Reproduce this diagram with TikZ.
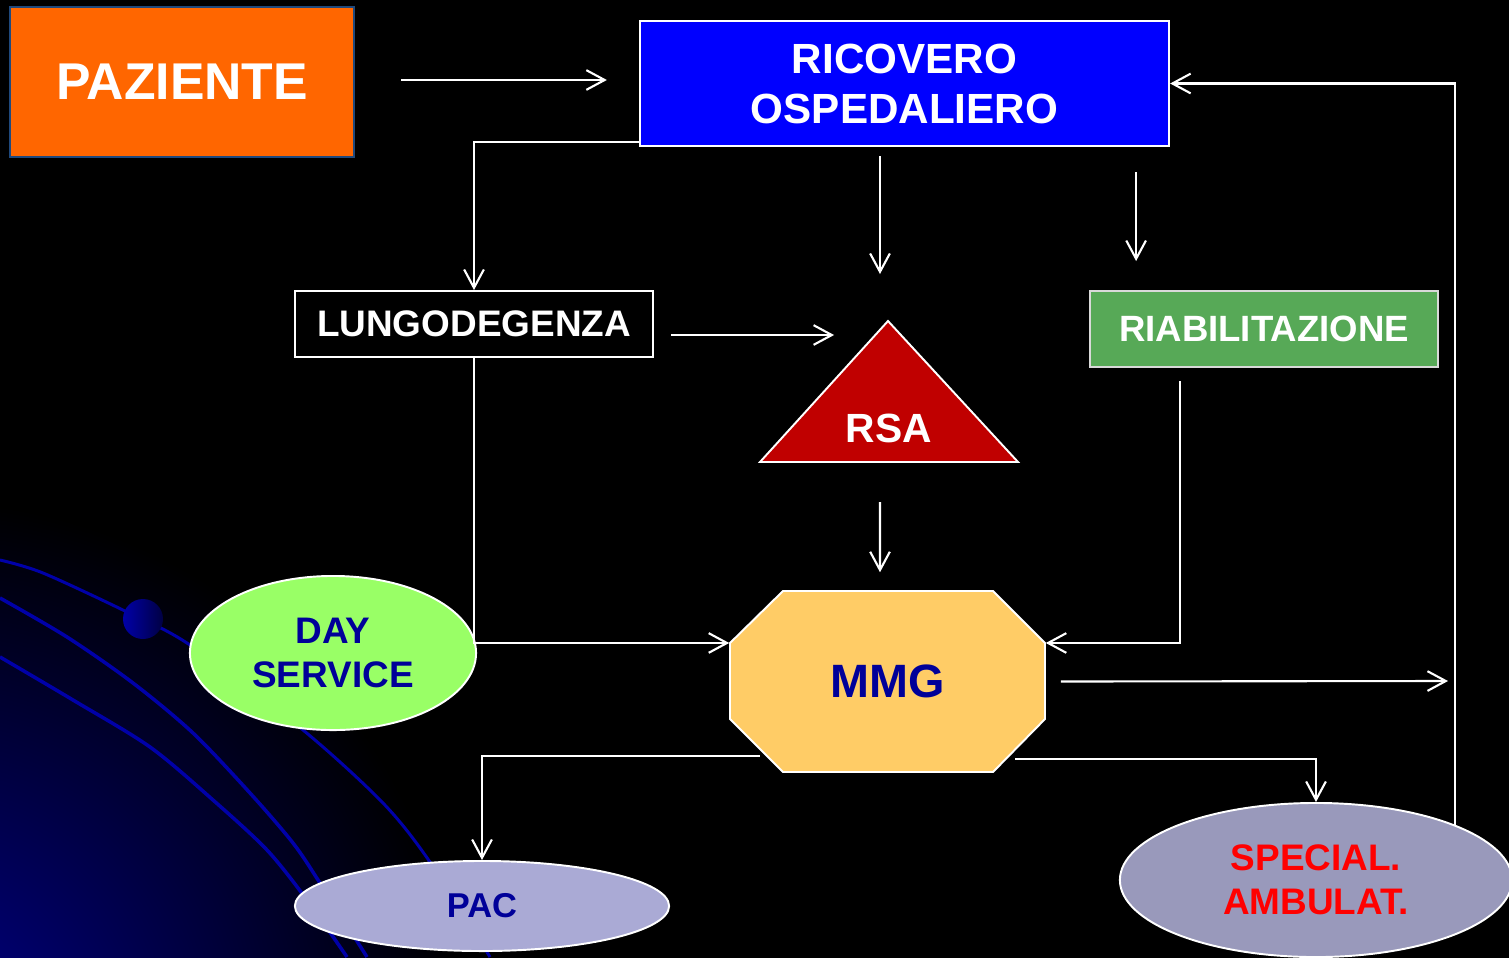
\documentclass[tikz,border=0pt]{standalone}
\usepackage{fontspec}
\setmainfont{Liberation Sans}
\usetikzlibrary{arrows.meta, shapes.geometric}
\definecolor{pazorange}{HTML}{FF6600}
\definecolor{pazedge}{HTML}{1F497D}
\definecolor{ricblue}{HTML}{0000FF}
\definecolor{riabgreen}{HTML}{57A957}
\definecolor{rsared}{HTML}{C00000}
\definecolor{mmgyellow}{HTML}{FFCC66}
\definecolor{daygreen}{HTML}{99FF66}
\definecolor{paclilac}{HTML}{AAAAD5}
\definecolor{speclilac}{HTML}{9999BB}
\definecolor{txtblue}{HTML}{000099}
\definecolor{arcblue}{HTML}{0000A8}
\definecolor{globeblue}{HTML}{000088}
\tikzset{
  box/.style   = {draw=white, line width=0.55pt, inner sep=0pt, align=center,
                  text=white},
  oval/.style  = {ellipse, draw=white, line width=0.55pt, inner sep=0pt,
                  align=center, text=txtblue},
  ar/.style    = {draw=white, line width=0.6pt,
                  -{Straight Barb[length=5.2pt, width=5.6pt]}},
  arcl/.style  = {draw=arcblue, line width=1pt},
}
\newcommand{\fs}[2]{\fontsize{#1}{#2}\selectfont\bfseries}

\begin{document}
\begin{tikzpicture}[x=0.01cm, y=-0.01cm]
  \useasboundingbox (0,0) rectangle (1509,957);
  \fill[black] (-10,-10) rectangle (1519,967);
  % globe in the corner
  \begin{scope}
    \clip (0,0) rectangle (1509,957);
    \shade[inner color=globeblue, outer color=black] (-80,1040) circle (540);
    \draw[arcl, line width=0.85pt] plot[smooth] coordinates
      {(0,560) (43,573) (127,612) (190,645) (303,730) (383,803) (430,862) (490,957)};
    \draw[arcl] plot[smooth] coordinates
      {(0,598) (67,637) (133,683) (193,733) (250,793) (293,843) (320,883) (367,957)};
    \draw[arcl] plot[smooth] coordinates
      {(0,657) (73,700) (150,747) (213,800) (267,850) (307,900) (347,957)};
    \shade[left color=arcblue, right color=black!60!arcblue] (143,619) circle (20);
  \end{scope}

  % nodes
  \node[box, fill=pazorange, draw=pazedge, minimum width=3.44cm, minimum height=1.5cm,
        font=\fs{14.7}{17}] (paz) at (182,82) {PAZIENTE};
  \node[box, fill=ricblue, minimum width=5.29cm, minimum height=1.25cm,
        font=\fs{12}{14.2}] (ric) at (904.5,83.5) {RICOVERO\\OSPEDALIERO};
  \node[box, fill=black, minimum width=3.58cm, minimum height=0.66cm,
        font=\fs{10.5}{12}] (lung) at (474,324) {LUNGODEGENZA};
  \node[box, fill=riabgreen, draw=white!85!black, minimum width=3.48cm,
        minimum height=0.76cm, font=\fs{10.4}{12}] (riab) at (1264,329) {RIABILITAZIONE};
  \filldraw[fill=rsared, draw=white, line width=0.55pt]
    (888,321) -- (1018,462) -- (760,462) -- cycle;
  \node[text=white, inner sep=0pt, font=\fs{11.6}{13}] (rsa) at (889,428) {RSA};
  \filldraw[fill=mmgyellow, draw=white, line width=0.55pt]
    (783,591) -- (993,591) -- (1045,643) -- (1045,719) -- (993,772)
    -- (783,772) -- (730,719) -- (730,643) -- cycle;
  \node[text=txtblue, inner sep=0pt, minimum width=3.15cm, minimum height=1.81cm,
        font=\fs{13.3}{15}] (mmg) at (887.5,681.5) {MMG};
  \node[oval, fill=daygreen, minimum width=2.86cm, minimum height=1.54cm,
        font=\fs{10.5}{12.5}] (day) at (333,653) {DAY\\SERVICE};
  \node[oval, fill=paclilac, minimum width=3.74cm, minimum height=0.9cm,
        font=\fs{9.8}{11}] (pac) at (482,906) {PAC};
  \node[oval, fill=speclilac, text=red, minimum width=3.92cm, minimum height=1.54cm,
        font=\fs{10.5}{12.5}] (spec) at (1316,880) {SPECIAL.\\AMBULAT.};
  \coordinate (out) at (1448,681);

  % connectors
  \draw[ar, shorten <=0.46cm, shorten >=0.32cm] ([yshift=0.02cm]paz.east)
    -- ([yshift=0.02cm]paz.east -| ric.west);
  \draw[ar] ([yshift=0.05cm]ric.south west) -| (lung.north);
  \draw[ar] ([xshift=-0.245cm, yshift=-0.09cm]ric.south) -- ++(0,118);
  \draw[ar] ([xshift=-0.34cm, yshift=-0.25cm]ric.south east) -- ++(0,89);
  \draw[ar] ([xshift=0.17cm, yshift=-0.11cm]lung.east) -- ++(163,0);
  \draw[ar] ([xshift=-0.09cm, yshift=-0.74cm]rsa.center)
    -- ([xshift=-0.075cm, yshift=0.18cm]mmg.north);
  \draw[ar] (lung.south) |- ([yshift=0.385cm]mmg.west);
  \draw[ar] ([xshift=-0.84cm, yshift=-0.13cm]riab.south) |- ([yshift=0.385cm]mmg.east);
  \draw[ar] ([xshift=0.15cm]mmg.east) -- (out);
  \draw[ar] (spec.north east) |- (ric.east);
  \draw[ar] ([xshift=-1.275cm, yshift=-0.745cm]mmg.center) -| (pac.north);
  \draw[ar] ([xshift=1.275cm, yshift=-0.775cm]mmg.center) -| (spec.north);
\end{tikzpicture}
\end{document}
